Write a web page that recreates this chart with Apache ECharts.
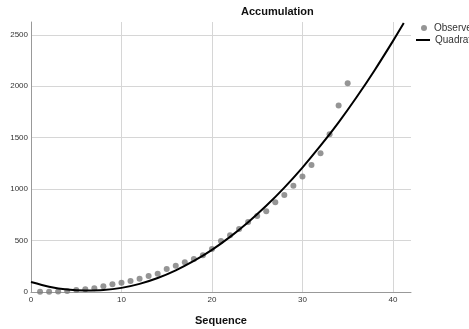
<!DOCTYPE html>
<html>
<head>
<meta charset="utf-8">
<script src="https://cdn.jsdelivr.net/npm/echarts@6/dist/echarts.min.js"></script>
<style>
  html, body { margin: 0; padding: 0; background: #fff; }
  #chart { width: 469px; height: 329px; }
</style>
</head>
<body>
<div id="chart"></div>
<script>
// observed accumulation by sequence
var seqX = [1, 2, 3, 4, 5, 6, 7, 8, 9, 10, 11, 12, 13, 14, 15, 16, 17, 18,
            19, 20, 21, 22, 23, 24, 25, 26, 27, 28, 29, 30, 31, 32, 33, 34, 35];
var observedY = [3, 3, 4, 10, 19, 26, 36, 55, 75, 91, 107, 130, 156, 178, 224, 256, 289, 321,
                 357, 418, 496, 551, 613, 681, 739, 785, 872, 943, 1034, 1122, 1235, 1349, 1534, 1812, 2030];

// quadratic fit line
var fitX = [0, 2, 4, 6, 8, 10, 12, 14, 16, 18, 20, 22, 24, 26, 28, 30, 32, 34, 36, 38, 40, 41.2];
var fitY = [97, 52, 24, 15, 19, 40, 79, 136, 211, 302, 410, 536, 679, 838, 1015, 1210, 1422, 1650, 1896, 2159, 2439, 2615];

var xTicks = [0, 10, 20, 30, 40];
var yTicks = [0, 500, 1000, 1500, 2000, 2500];

var font = 'Liberation Sans, Arial, sans-serif';

var observed = seqX.map(function (x, i) { return [x, observedY[i]]; });
var fitted = fitX.map(function (x, i) { return [x, fitY[i]]; });

var myChart = echarts.init(document.getElementById('chart'));
var option = {
    animation: false,
    textStyle: { fontFamily: font },
    title: {
        text: 'Accumulation',
        left: 236,
        top: 1,
        textStyle: { fontSize: 11, fontWeight: 'bold', color: '#111', fontFamily: font }
    },
    legend: [{
        data: [{ name: 'Observed', icon: 'circle' }],
        orient: 'vertical',
        left: 421,
        top: 23,
        padding: 0,
        itemWidth: 10,
        itemHeight: 6,
        textStyle: { fontSize: 10, color: '#333', fontFamily: font }
    }, {
        data: [{ name: 'Quadratic', icon: 'rect' }],
        orient: 'vertical',
        left: 416,
        top: 35,
        padding: 0,
        itemWidth: 14,
        itemHeight: 2,
        symbolKeepAspect: false,
        itemStyle: { color: '#000' },
        textStyle: { fontSize: 10, color: '#333', fontFamily: font }
    }],
    grid: {
        left: 31,
        right: 58,
        top: 22,
        bottom: 37,
        outerBoundsMode: 'none'
    },
    xAxis: {
        type: 'value',
        min: 0,
        max: 42,
        interval: 10,
        name: 'Sequence',
        nameLocation: 'middle',
        nameGap: 23,
        nameTextStyle: { fontSize: 11, fontWeight: 'bold', color: '#111', fontFamily: font },
        axisLine: { show: true, lineStyle: { color: '#999', width: 1 } },
        axisTick: { show: false },
        axisLabel: {
            fontSize: 8, color: '#333', margin: 4, showMaxLabel: false,
            formatter: function (v) { return xTicks.indexOf(v) >= 0 ? String(v) : ''; }
        },
        splitLine: { show: true, showMinLine: false, showMaxLine: false, lineStyle: { color: '#d6d6d6', width: 1 } }
    },
    yAxis: {
        type: 'value',
        min: 0,
        max: 2625,
        interval: 500,
        axisLine: { show: true, lineStyle: { color: '#999', width: 1 } },
        axisTick: { show: false },
        axisLabel: {
            fontSize: 8, color: '#333', margin: 3, showMaxLabel: false,
            formatter: function (v) { return yTicks.indexOf(v) >= 0 ? String(v) : ''; }
        },
        splitLine: { show: true, showMinLine: false, showMaxLine: false, lineStyle: { color: '#d6d6d6', width: 1 } }
    },
    series: [{
        name: 'Observed',
        type: 'scatter',
        data: observed,
        symbolSize: 6,
        itemStyle: { color: '#7a7a7a' }
    }, {
        name: 'Quadratic',
        type: 'line',
        data: fitted,
        smooth: 0.3,
        symbol: 'none',
        clip: true,
        lineStyle: { color: '#000', width: 2 },
        itemStyle: { color: '#000' }
    }]
};
myChart.setOption(option);
</script>
</body>
</html>
